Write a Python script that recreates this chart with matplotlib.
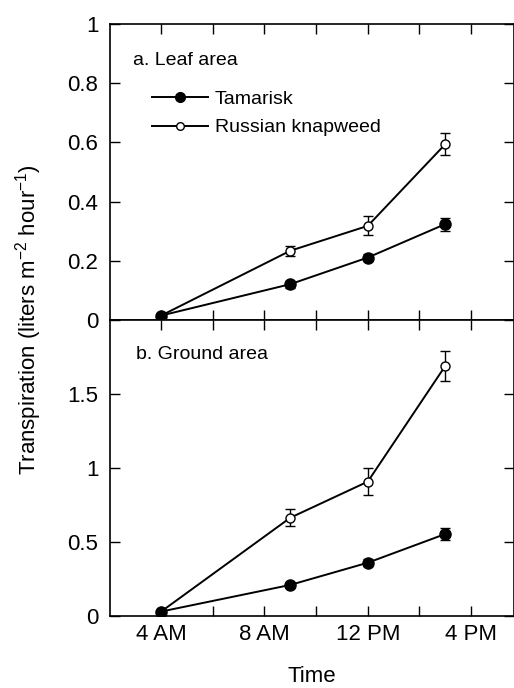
import matplotlib
matplotlib.use("Agg")
import matplotlib.pyplot as plt
from matplotlib.lines import Line2D
from matplotlib.ticker import FixedLocator

plt.rcParams['font.family'] = ['Liberation Sans', 'DejaVu Sans']
plt.rcParams['mathtext.fontset'] = 'custom'
plt.rcParams['mathtext.rm'] = 'Liberation Sans'

# Data
hours = [4, 9, 12, 15]
xtick_pos = [4, 8, 12, 16]
xtick_labels = ["4 AM", "8 AM", "12 PM", "4 PM"]

leaf_tamarisk = [0.015, 0.121, 0.211, 0.324]
leaf_tamarisk_err = [0.004, 0.012, 0.013, 0.022]
leaf_knapweed = [0.015, 0.234, 0.318, 0.594]
leaf_knapweed_err = [0.004, 0.017, 0.032, 0.038]

ground_tamarisk = [0.03, 0.21, 0.36, 0.554]
ground_tamarisk_err = [0.005, 0.012, 0.025, 0.04]
ground_knapweed = [0.03, 0.664, 0.908, 1.69]
ground_knapweed_err = [0.005, 0.056, 0.09, 0.10]

W, H = 514, 688
fig = plt.figure(figsize=(W / 100, H / 100), dpi=100)

L = 109.5 / W
Wd = 404 / W
ax1 = fig.add_axes([L, 1 - 320 / H, Wd, 296 / H])
ax2 = fig.add_axes([L, 1 - 616 / H, Wd, 296 / H])

lw = 1.4
tick_fs = 16


def draw(ax, tam, tam_e, kn, kn_e):
    ax.errorbar(hours, kn, yerr=kn_e, color='black', lw=lw, marker='o', ms=6.5,
                mfc='white', mec='black', mew=1.0, capsize=3.5, elinewidth=1.0,
                capthick=1.0, zorder=3)
    ax.errorbar(hours, tam, yerr=tam_e, color='black', lw=lw, marker='o', ms=8,
                mfc='black', mec='black', capsize=3.5, elinewidth=1.0,
                capthick=1.0, zorder=4)
    ax.set_xlim(2, 2 + 404 / 25.83)
    ax.xaxis.set_major_locator(FixedLocator(xtick_pos))
    ax.xaxis.set_minor_locator(FixedLocator([6, 10, 14]))
    ax.tick_params(axis='both', which='both', direction='in', top=True, right=True,
                   length=7, width=1.0, labelsize=tick_fs)
    ax.tick_params(axis='y', pad=8)
    ax.tick_params(axis='x', pad=6)
    for s in ax.spines.values():
        s.set_linewidth(1.2)


draw(ax1, leaf_tamarisk, leaf_tamarisk_err, leaf_knapweed, leaf_knapweed_err)
draw(ax2, ground_tamarisk, ground_tamarisk_err, ground_knapweed, ground_knapweed_err)

ax1.set_ylim(0, 1)
ax1.set_yticks([0, 0.2, 0.4, 0.6, 0.8, 1])
ax1.set_yticklabels(["0", "0.2", "0.4", "0.6", "0.8", "1"])
ax1.tick_params(axis='x', labelbottom=False)

ax2.set_ylim(0, 2)
ax2.set_yticks([0, 0.5, 1, 1.5, 2])
ax2.set_yticklabels(["0", "0.5", "1", "1.5", ""])
ax2.set_xticklabels(xtick_labels)

ax1.text(0.058, 0.876, "a. Leaf area", transform=ax1.transAxes, fontsize=14,
         ha='left', va='center')
ax2.text(0.065, 0.885, "b. Ground area", transform=ax2.transAxes, fontsize=14,
         ha='left', va='center')

handles = [
    Line2D([], [], color='black', lw=lw, marker='o', ms=7, mfc='black', mec='black'),
    Line2D([], [], color='black', lw=lw, marker='o', ms=5.5, mfc='white', mec='black'),
]
ax1.legend(handles, ["Tamarisk", "Russian knapweed"], loc='upper left',
           bbox_to_anchor=(0.105, 0.776), frameon=False, fontsize=14,
           handlelength=2.9, handletextpad=0.35, borderpad=0, borderaxespad=0,
           labelspacing=0.56)

fig.text(29 / W, 1 - 320 / H, r"Transpiration (liters m$^{-2}$ hour$^{-1}$)",
         rotation=90, ha='center', va='center', fontsize=16)
fig.text((109.5 + 202) / W, 1 - 677 / H, "Time", ha='center', va='center', fontsize=16)

fig.savefig("out.png", dpi=100)
